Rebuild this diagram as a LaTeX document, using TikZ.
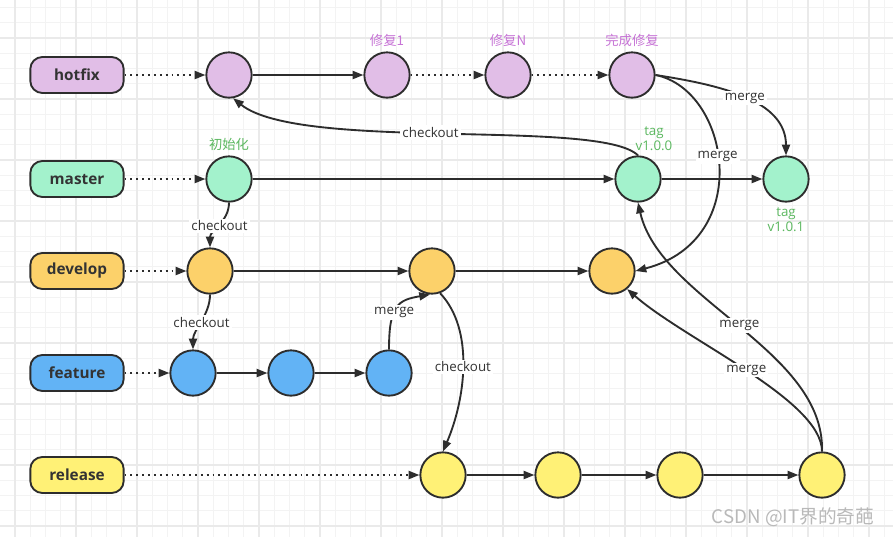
\documentclass[tikz,border=0pt]{standalone}
\usepackage{fontspec}
\setmainfont{Open Sans}
\newfontfamily\cjk{Noto Sans CJK SC}
\usepackage{xcolor}
\usetikzlibrary{arrows.meta,positioning}
\definecolor{hotfixfill}{HTML}{E1BEE7}
\definecolor{masterfill}{HTML}{A3F2CC}
\definecolor{developfill}{HTML}{FCD16A}
\definecolor{featurefill}{HTML}{62B3F5}
\definecolor{releasefill}{HTML}{FFF176}
\definecolor{edgecol}{HTML}{2D2D2D}
\definecolor{txtcol}{HTML}{333333}
\definecolor{fixtext}{HTML}{C774D6}
\definecolor{tagtext}{HTML}{5CB860}
\definecolor{gridmin}{HTML}{F3F3F3}
\definecolor{gridmaj}{HTML}{EAEAEA}

\begin{document}
\begin{tikzpicture}[x=0.75pt,y=-0.75pt,>={Triangle[length=8pt,width=6pt]},
	branch/.style={rectangle,rounded corners=9pt,draw=edgecol,line width=1.4pt,minimum width=70pt,minimum height=27pt,text=txtcol,font=\bfseries\fontsize{11.5}{12}\selectfont},
	commit/.style={circle,draw=edgecol,line width=1.4pt,minimum size=34pt,inner sep=0pt},
	flow/.style={->,draw=edgecol,line width=1.4pt},
	dots/.style={->,draw=edgecol,line width=1.4pt,dash pattern=on 1.4pt off 3pt},
	lbl/.style={fill=white,text=txtcol,inner sep=1.5pt,font=\fontsize{10}{11}\selectfont},
	fixlbl/.style={text=fixtext,font=\cjk\fontsize{10}{11}\selectfont},
	taglbl/.style={text=tagtext,align=center,font=\fontsize{10}{11.5}\selectfont}]
	\useasboundingbox[fill=white] (0,0) rectangle (893,537);
	% grid
	\foreach \gx in {0,...,58} \draw[gridmin,line width=0.75pt] ({\gx*15.25-0.25},0) -- ({\gx*15.25-0.25},537);
	\foreach \gy in {0,...,34} \draw[gridmin,line width=0.75pt] (0,{7.5+\gy*15.25}) -- (893,{7.5+\gy*15.25});
	\foreach \gx in {0,...,14} \draw[gridmaj,line width=1.4pt] ({15+\gx*61},0) -- ({15+\gx*61},537);
	\foreach \gy in {0,...,8} \draw[gridmaj,line width=1.4pt] (0,{38+\gy*61}) -- (893,{38+\gy*61});

	% branches
	\node[branch,fill=hotfixfill] (hotfix) at (77,75) {hotfix};
	\node[branch,fill=masterfill] (master) at (77,179) {master};
	\node[branch,fill=developfill] (develop) at (77,271) {develop};
	\node[branch,fill=featurefill] (feature) at (77,373) {feature};
	\node[branch,fill=releasefill] (release) at (77,475) {release};

	% commits
	\node[commit,fill=hotfixfill] (h1) at (229,75) {};
	\node[commit,fill=hotfixfill,label={[fixlbl]above:修复1}] (h2) at (387,75) {};
	\node[commit,fill=hotfixfill,label={[fixlbl]above:修复N}] (h3) at (508,75) {};
	\node[commit,fill=hotfixfill,label={[fixlbl]above:完成修复}] (h4) at (632,75) {};
	\node[commit,fill=masterfill,label={[fixlbl,text=tagtext]above:初始化}] (m1) at (229,179) {};
	\node[commit,fill=masterfill,label={[taglbl,xshift=12pt]above:tag\\v1.0.0}] (m2) at (638,179) {};
	\node[commit,fill=masterfill,label={[taglbl]below:tag\\v1.0.1}] (m3) at (786,179) {};
	\node[commit,fill=developfill] (d1) at (210,271) {};
	\node[commit,fill=developfill] (d2) at (432,271) {};
	\node[commit,fill=developfill] (d3) at (612,271) {};
	\node[commit,fill=featurefill] (f1) at (193,373) {};
	\node[commit,fill=featurefill] (f2) at (291,373) {};
	\node[commit,fill=featurefill] (f3) at (389,373) {};
	\node[commit,fill=releasefill] (r1) at (443,475) {};
	\node[commit,fill=releasefill] (r2) at (558,475) {};
	\node[commit,fill=releasefill] (r3) at (680,475) {};
	\node[commit,fill=releasefill] (r4) at (822,475) {};

	\node[text=gray!55,font=\cjk\fontsize{14}{16}\selectfont] (mark) at (793,517) {CSDN @IT界的奇葩};

	% straight commits
	\draw 	(hotfix) edge[dots] (h1)
			(h1) edge[flow] (h2)
			(h2) edge[dots] (h3)
			(h3) edge[dots] (h4)
			(master) edge[dots] (m1)
			(m1) edge[flow] (m2)
			(m2) edge[flow] (m3)
			(develop) edge[dots] (d1)
			(d1) edge[flow] (d2)
			(d2) edge[flow] (d3)
			(feature) edge[dots] (f1)
			(f1) edge[flow] (f2)
			(f2) edge[flow] (f3)
			(release) edge[dots] (r1)
			(r1) edge[flow] (r2)
			(r2) edge[flow] (r3)
			(r3) edge[flow] (r4);

	% checkout / merge
	\draw[flow] (m2.north) .. controls (600,118) and (300,152) .. (h1.-80) node[lbl,pos=0.53] {checkout};
	\draw[flow] (m1.south) .. controls (229,222) and (210,230) .. (d1.north) node[lbl,pos=0.5] {checkout};
	\draw[flow] (d1.south) .. controls (210,315) and (193,330) .. (f1.north) node[lbl,pos=0.5] {checkout};
	\draw[flow] (f3.north) .. controls (389,305) and (398,300) .. (d2.-95) node[lbl,pos=0.4] {merge};
	\draw[flow] (d2.-70) .. controls (475,330) and (465,400) .. (r1.north) node[lbl,pos=0.5] {checkout};
	\draw[flow] (h4.east) .. controls (720,85) and (786,100) .. (m3.north) node[lbl,pos=0.5] {merge};
	\draw[flow] (h4.east) .. controls (730,90) and (755,240) .. (d3.east) node[lbl,pos=0.46] {merge};
	\draw[flow] (r4.north) .. controls (825,350) and (660,300) .. (m2.south) node[lbl,pos=0.5] {merge};
	\draw[flow] (r4.north) .. controls (822,400) and (685,340) .. (d3.-50) node[lbl,pos=0.5] {merge};
\end{tikzpicture}
\end{document}
